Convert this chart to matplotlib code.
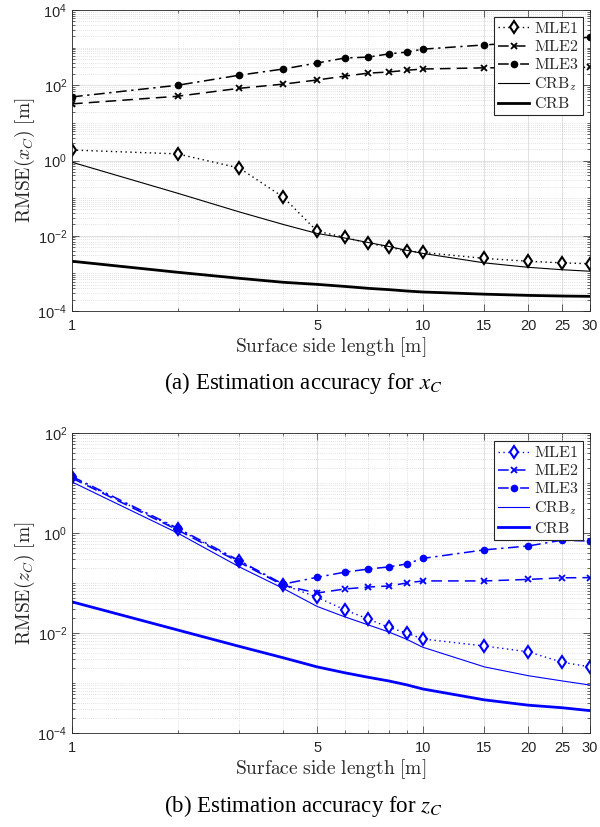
import numpy as np
import matplotlib
matplotlib.use("Agg")
import matplotlib.pyplot as plt
from matplotlib.ticker import FixedLocator, FixedFormatter, NullFormatter

plt.rcParams['font.family'] = ['Liberation Sans', 'DejaVu Sans']
plt.rcParams['mathtext.fontset'] = 'custom'
plt.rcParams['mathtext.rm'] = 'Liberation Sans'
plt.rcParams['mathtext.it'] = 'Liberation Sans:italic'
plt.rcParams['mathtext.bf'] = 'Liberation Sans:bold'

# ---------------- data ----------------
side_length = [1, 2, 3, 4, 5, 6, 7, 8, 9, 10, 15, 20, 25, 30]

# (a) x_C
mle1_x = [1.9, 1.5, 0.63, 0.107, 0.0132, 0.0091, 0.0063, 0.005, 0.0039, 0.0036, 0.0025, 0.0021, 0.0019, 0.0018]
mle2_x = [32, 51, 83, 107, 138, 175, 210, 225, 250, 270, 290, 295, 298, 300]
mle3_x = [49, 100, 185, 270, 390, 530, 560, 680, 760, 910, 1180, 1400, 1650, 1900]
crbz_x = [0.9, 0.135, 0.043, 0.02, 0.0115, 0.0087, 0.0066, 0.0052, 0.0041, 0.0034, 0.0019, 0.00145, 0.00125, 0.00114]
crb_x = [0.0021, 0.00107, 0.00074, 0.00058, 0.00051, 0.00045, 0.0004, 0.00037, 0.00034, 0.00032, 0.00028, 0.00026, 0.00025, 0.000245]

# (b) z_C
mle1_z = [13, 1.2, 0.27, 0.092, 0.052, 0.029, 0.019, 0.013, 0.010, 0.0076, 0.0055, 0.0042, 0.0026, 0.0021]
mle2_z = [12.5, 1.15, 0.26, 0.09, 0.063, 0.076, 0.083, 0.087, 0.1, 0.11, 0.11, 0.118, 0.127, 0.128]
mle3_z = [13.5, 1.25, 0.28, 0.095, 0.13, 0.165, 0.19, 0.21, 0.24, 0.31, 0.46, 0.55, 0.72, 0.69]
crbz_z = [10.5, 1.0, 0.21, 0.078, 0.034, 0.021, 0.0145, 0.0105, 0.0075, 0.0052, 0.0021, 0.0014, 0.0011, 0.00091]
crb_z = [0.042, 0.0115, 0.0054, 0.0032, 0.0021, 0.0016, 0.0013, 0.0011, 0.00092, 0.00076, 0.00046, 0.00036, 0.00032, 0.00028]

x_major = [1, 5, 10, 15, 20, 25, 30]
x_minor = [2, 3, 4, 6, 7, 8, 9]
x_labels = ['1', '5', '10', '15', '20', '25', '30']

legend_labels = [r'$\mathrm{MLE1}$', r'$\mathrm{MLE2}$', r'$\mathrm{MLE3}$', r'$\mathrm{CRB}_z$', r'$\mathrm{CRB}$']

W, H = 600, 827
fig = plt.figure(figsize=(W / 100, H / 100), dpi=100)


def make_axes(px_left, px_top, px_right, px_bottom):
    return fig.add_axes([px_left / W, 1 - px_bottom / H, (px_right - px_left) / W, (px_bottom - px_top) / H])


def style_axes(ax, ymin_exp, ymax_exp):
    ax.set_xscale('log')
    ax.set_yscale('log')
    ax.set_xlim(1, 30)
    ax.set_ylim(10.0 ** ymin_exp, 10.0 ** ymax_exp)
    ax.xaxis.set_major_locator(FixedLocator(x_major))
    ax.xaxis.set_major_formatter(FixedFormatter(x_labels))
    ax.xaxis.set_minor_locator(FixedLocator(x_minor))
    ax.xaxis.set_minor_formatter(NullFormatter())
    yt = [10.0 ** e for e in range(ymin_exp, ymax_exp + 1, 2)]
    ax.yaxis.set_major_locator(FixedLocator(yt))
    ax.yaxis.set_major_formatter(FixedFormatter([r'$10^{%d}$' % e for e in range(ymin_exp, ymax_exp + 1, 2)]))
    ym = []
    for e in range(ymin_exp, ymax_exp):
        for m in range(1, 10):
            v = m * 10.0 ** e
            if m == 1 and (e - ymin_exp) % 2 == 0:
                continue
            ym.append(v)
    ax.yaxis.set_minor_locator(FixedLocator(ym))
    ax.yaxis.set_minor_formatter(NullFormatter())
    ax.grid(True, which='major', color='#dcdcdc', linestyle='-', linewidth=0.6)
    ax.grid(True, which='minor', color='#c8c8c8', linestyle=(0, (1, 2)), linewidth=0.5)
    ax.set_axisbelow(True)
    ax.tick_params(which='both', direction='in', top=True, right=True, colors='#262626',
                   labelcolor='#262626', labelsize=10.5, width=0.5)
    ax.tick_params(which='major', length=5)
    ax.tick_params(which='minor', length=2.5)
    ax.tick_params(axis='x', pad=6)
    for s in ax.spines.values():
        s.set_color('#262626')
        s.set_linewidth(0.6)


def draw_panel(ax, color, mle1, mle2, mle3, crbz, crb, ylabel, leg_y):
    h1, = ax.plot(side_length, mle1, color=color, linestyle=(0, (1, 2.5)), linewidth=1.0,
                  marker='d', markersize=6.5, markerfacecolor='white', markeredgecolor=color, markeredgewidth=1.5)
    h2, = ax.plot(side_length, mle2, color=color, linestyle=(0, (7, 4)), linewidth=1.1,
                  marker='x', markersize=4, markeredgewidth=1.3)
    h3, = ax.plot(side_length, mle3, color=color, linestyle=(0, (7, 3, 1.5, 3)), linewidth=1.1,
                  marker='o', markersize=4.5, markerfacecolor=color, markeredgecolor=color)
    h4, = ax.plot(side_length, crbz, color=color, linestyle='-', linewidth=0.8)
    h5, = ax.plot(side_length, crb, color=color, linestyle='-', linewidth=2.0)
    ax.set_xlabel(r'$\mathrm{Surface\ side\ length\ [m]}$', fontsize=14, math_fontfamily='cm',
                  labelpad=1, color='#262626')
    ax.set_ylabel(ylabel, fontsize=14, math_fontfamily='cm', labelpad=0, color='#262626')
    leg = ax.legend([h1, h2, h3, h4, h5], legend_labels, loc='upper right',
                    bbox_to_anchor=(0.9865, leg_y), borderaxespad=0, fancybox=False,
                    framealpha=1, edgecolor='#262626', fontsize=11.5, handlelength=2.0,
                    handletextpad=0.3, labelspacing=0.2, borderpad=0.25)
    leg.get_frame().set_linewidth(0.8)
    for t in leg.get_texts():
        t.set_math_fontfamily('cm')
        t.set_color('#262626')


ax1 = make_axes(72, 10, 590, 311)
style_axes(ax1, -4, 4)
draw_panel(ax1, 'black', mle1_x, mle2_x, mle3_x, crbz_x, crb_x,
           r'$\mathrm{RMSE}(x_C)\ \mathrm{[m]}$', 0.977)

ax2 = make_axes(72, 433, 590, 733)
style_axes(ax2, -4, 2)
draw_panel(ax2, 'blue', mle1_z, mle2_z, mle3_z, crbz_z, crb_z,
           r'$\mathrm{RMSE}(z_C)\ \mathrm{[m]}$', 0.973)

fig.text(303 / W, 1 - 383 / H, r'(a) Estimation accuracy for $x_C$', ha='center', va='center',
         fontsize=16.5, family='Liberation Serif', math_fontfamily='stix')
fig.text(303 / W, 1 - 806 / H, r'(b) Estimation accuracy for $z_C$', ha='center', va='center',
         fontsize=16.5, family='Liberation Serif', math_fontfamily='stix')

fig.savefig('out.png', dpi=100)
